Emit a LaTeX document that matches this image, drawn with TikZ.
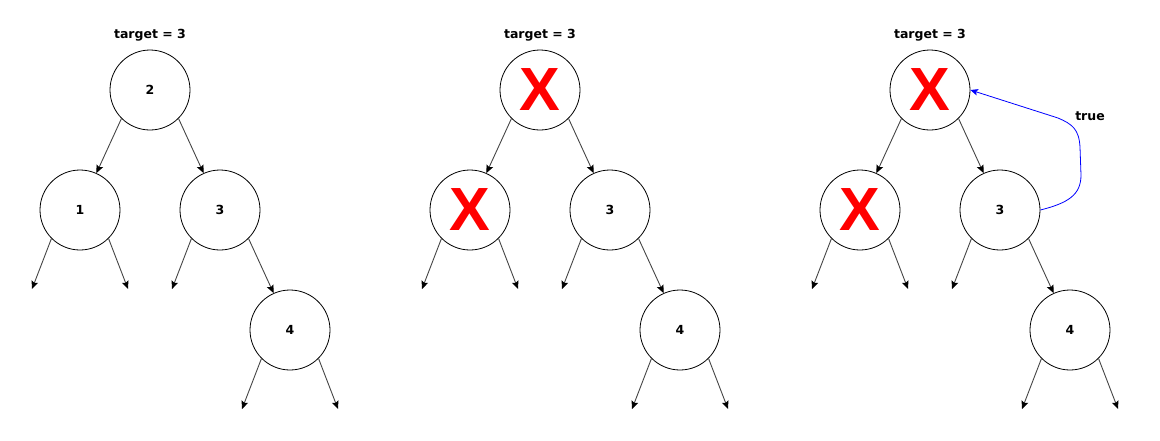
\documentclass[tikz,border=0pt]{standalone}
\usepackage{fontspec}
\setmainfont{DejaVu Sans}
\newfontfamily\crossfont{Liberation Sans}
\usetikzlibrary{arrows.meta}
\definecolor{edgegray}{RGB}{70,70,70}
\definecolor{retblue}{RGB}{0,0,255}
\newcommand\crossmark{{\crossfont\bfseries\fontsize{61}{61}\selectfont\textcolor{red}{X}}}
\begin{document}
\begin{tikzpicture}[x=1pt,y=-1pt,
  treenode/.style={circle,draw=black,line width=0.8pt,minimum size=80pt,inner sep=0pt,
    font=\bfseries\fontsize{12.5}{14}\selectfont},
  caption/.style={font=\bfseries\fontsize{12.5}{14}\selectfont},
  edge/.style={draw=edgegray,line width=0.9pt,
    -{Stealth[length=8pt,width=7pt,inset=1.5pt,black]}},
  backedge/.style={draw=retblue,line width=0.8pt,
    -{Stealth[length=7.5pt,width=6.5pt,inset=1.5pt,retblue]}}]
\useasboundingbox (0,0) rectangle (1160,440);

\foreach \o/\k/\rl/\al in {0/1/2/1, 390/2/\crossmark/\crossmark, 780/3/\crossmark/\crossmark}{
  % caption and nodes of one tree
  \node[caption] (t\k) at (150+\o,35) {target = 3};
  \node[treenode] (r\k) at (150+\o,90)  {\rl};
  \node[treenode] (a\k) at (80+\o,210)  {\al};
  \node[treenode] (b\k) at (220+\o,210) {3};
  \node[treenode] (c\k) at (290+\o,330) {4};
  % free ends of the empty children
  \coordinate (al\k) at (32+\o,289);
  \coordinate (ar\k) at (128+\o,289);
  \coordinate (bl\k) at (172+\o,289);
  \coordinate (cl\k) at (242+\o,409);
  \coordinate (cr\k) at (338+\o,409);
  % tree edges
  \draw[edge] (r\k.225) -- (a\k.66);
  \draw[edge] (r\k.-45) -- (b\k.114);
  \draw[edge] (b\k.-45) -- (c\k.114);
  \draw[edge] (a\k.225) -- (al\k);
  \draw[edge] (a\k.-45) -- (ar\k);
  \draw[edge] (b\k.225) -- (bl\k);
  \draw[edge] (c\k.225) -- (cl\k);
  \draw[edge] (c\k.-45) -- (cr\k);
}

% result returned from node 3 to the root
\draw[backedge] (b3.east) .. controls (1068,203) and (1081,195) .. (1081,175)
  -- (1080,147) .. controls (1079,129) and (1072,124) .. (1058,118) -- (r3.east);
\node[caption] (ret) at (1090,116) {true};
\end{tikzpicture}
\end{document}
